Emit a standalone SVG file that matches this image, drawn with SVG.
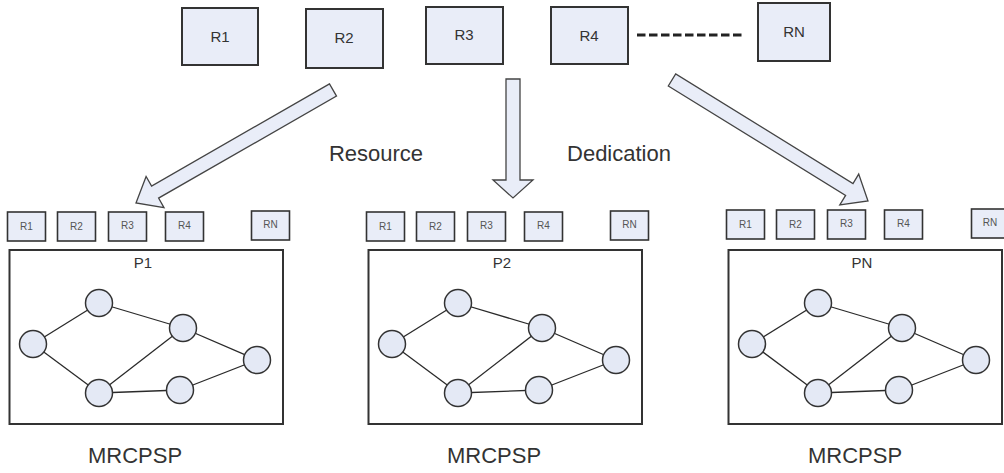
<svg xmlns="http://www.w3.org/2000/svg" width="1004" height="473" viewBox="0 0 1004 473">
<style>
text{font-family:"Liberation Sans",Arial,sans-serif;fill:#333;text-anchor:middle}
.rb{fill:#E9EDF8;stroke:#333;stroke-width:2}
.sb{fill:#E9EDF8;stroke:#333;stroke-width:1.6}
.pan{fill:#fff;stroke:#333;stroke-width:2}
.nd{fill:#E4E9F5;stroke:#333;stroke-width:1.5}
.ed{stroke:#2a2a2a;stroke-width:1.3;fill:none}
.ar{fill:#E9EDF8;stroke:#444;stroke-width:1.3;stroke-linejoin:miter}
.t15{font-size:15px}
.t10{font-size:10px;fill:#555}
.t22{font-size:22px}
</style>
<rect width="1004" height="473" fill="#fff"/>
<g id="top-resources">
<g id="R1"><rect class="rb" x="182" y="8" width="76" height="57"/><text class="t15" x="220" y="42">R1</text></g>
<g id="R2"><rect class="rb" x="306" y="9" width="77" height="59"/><text class="t15" x="344" y="43">R2</text></g>
<g id="R3"><rect class="rb" x="426" y="7" width="77" height="57"/><text class="t15" x="464" y="40">R3</text></g>
<g id="R4"><rect class="rb" x="551" y="7" width="77" height="57"/><text class="t15" x="589" y="41">R4</text></g>
<g id="RN"><rect class="rb" x="758" y="3" width="72" height="58"/><text class="t15" x="794" y="37">RN</text></g>
</g>
<g id="labels">
<text class="t22" x="376" y="161">Resource</text>
<text class="t22" x="619" y="161">Dedication</text>
</g>
<g id="panel-P1">
<rect class="pan" x="9.5" y="250" width="273.5" height="174"/>
<text class="t15" x="143" y="268">P1</text>
<g id="P1-R1"><rect class="sb" x="7.5" y="212" width="38" height="29"/><text class="t10" x="26.5" y="230">R1</text></g>
<g id="P1-R2"><rect class="sb" x="57.5" y="212" width="38" height="29"/><text class="t10" x="76.5" y="230">R2</text></g>
<g id="P1-R3"><rect class="sb" x="108.5" y="212" width="38" height="29"/><text class="t10" x="127.5" y="229">R3</text></g>
<g id="P1-R4"><rect class="sb" x="165.5" y="212" width="38" height="29"/><text class="t10" x="184.5" y="229">R4</text></g>
<g id="P1-RN"><rect class="sb" x="251.5" y="211" width="38" height="29"/><text class="t10" x="270.5" y="228">RN</text></g>
</g>
<g id="panel-P2">
<rect class="pan" x="368.5" y="250" width="273.5" height="174"/>
<text class="t15" x="502" y="268">P2</text>
<g id="P2-R1"><rect class="sb" x="366.5" y="212" width="38" height="29"/><text class="t10" x="385.5" y="230">R1</text></g>
<g id="P2-R2"><rect class="sb" x="416.5" y="212" width="38" height="29"/><text class="t10" x="435.5" y="230">R2</text></g>
<g id="P2-R3"><rect class="sb" x="467.5" y="212" width="38" height="29"/><text class="t10" x="486.5" y="229">R3</text></g>
<g id="P2-R4"><rect class="sb" x="524.5" y="212" width="38" height="29"/><text class="t10" x="543.5" y="229">R4</text></g>
<g id="P2-RN"><rect class="sb" x="610.5" y="211" width="38" height="29"/><text class="t10" x="629.5" y="228">RN</text></g>
</g>
<g id="panel-PN">
<rect class="pan" x="728.5" y="250" width="273.5" height="174"/>
<text class="t15" x="862" y="268">PN</text>
<g id="PN-R1"><rect class="sb" x="726.5" y="210" width="38" height="29"/><text class="t10" x="745.5" y="228">R1</text></g>
<g id="PN-R2"><rect class="sb" x="776.5" y="210" width="38" height="29"/><text class="t10" x="795.5" y="228">R2</text></g>
<g id="PN-R3"><rect class="sb" x="827.5" y="210" width="38" height="29"/><text class="t10" x="846.5" y="227">R3</text></g>
<g id="PN-R4"><rect class="sb" x="884.5" y="210" width="38" height="29"/><text class="t10" x="903.5" y="227">R4</text></g>
<g id="PN-RN"><rect class="sb" x="971.5" y="209" width="38" height="29"/><text class="t10" x="990" y="226">RN</text></g>
</g>
<g id="connectors">
<line x1="637" y1="35" x2="742" y2="35" stroke="#222" stroke-width="3.2" stroke-dasharray="8.5 3.5"/>
<polygon class="ar" points="329.5,83.9 151.6,186 146.1,176.4 136,203 164,207.7 158.6,198.1 336.5,96.1"/>
<polygon class="ar" points="506,79 520,79 520,180 533,180 513,198 493,180 506,180"/>
<polygon class="ar" points="668.3,86 845.6,195.4 839.8,204.8 868,201 858.7,174.1 853,183.5 675.7,74"/>
<g id="edges-P1">
<line class="ed" x1="33" y1="344" x2="99" y2="303"/><line class="ed" x1="33" y1="344" x2="99" y2="393"/>
<line class="ed" x1="99" y1="303" x2="183" y2="328"/><line class="ed" x1="99" y1="393" x2="183" y2="328"/>
<line class="ed" x1="99" y1="393" x2="180" y2="390"/><line class="ed" x1="183" y1="328" x2="257" y2="360"/>
<line class="ed" x1="180" y1="390" x2="257" y2="360"/>
</g>
<g id="edges-P2">
<line class="ed" x1="392" y1="344" x2="458" y2="303"/><line class="ed" x1="392" y1="344" x2="458" y2="393"/>
<line class="ed" x1="458" y1="303" x2="542" y2="328"/><line class="ed" x1="458" y1="393" x2="542" y2="328"/>
<line class="ed" x1="458" y1="393" x2="539" y2="390"/><line class="ed" x1="542" y1="328" x2="616" y2="360"/>
<line class="ed" x1="539" y1="390" x2="616" y2="360"/>
</g>
<g id="edges-PN">
<line class="ed" x1="752" y1="344" x2="818" y2="303"/><line class="ed" x1="752" y1="344" x2="818" y2="393"/>
<line class="ed" x1="818" y1="303" x2="902" y2="328"/><line class="ed" x1="818" y1="393" x2="902" y2="328"/>
<line class="ed" x1="818" y1="393" x2="899" y2="390"/><line class="ed" x1="902" y1="328" x2="976" y2="360"/>
<line class="ed" x1="899" y1="390" x2="976" y2="360"/>
</g>
</g>
<g id="nodes-P1">
<g id="P1-a"><circle class="nd" cx="33" cy="344" r="13.5"/></g>
<g id="P1-b"><circle class="nd" cx="99" cy="303" r="13.5"/></g>
<g id="P1-c"><circle class="nd" cx="183" cy="328" r="13.5"/></g>
<g id="P1-d"><circle class="nd" cx="99" cy="393" r="13.5"/></g>
<g id="P1-e"><circle class="nd" cx="180" cy="390" r="13.5"/></g>
<g id="P1-f"><circle class="nd" cx="257" cy="360" r="13.5"/></g>
</g>
<g id="nodes-P2">
<g id="P2-a"><circle class="nd" cx="392" cy="344" r="13.5"/></g>
<g id="P2-b"><circle class="nd" cx="458" cy="303" r="13.5"/></g>
<g id="P2-c"><circle class="nd" cx="542" cy="328" r="13.5"/></g>
<g id="P2-d"><circle class="nd" cx="458" cy="393" r="13.5"/></g>
<g id="P2-e"><circle class="nd" cx="539" cy="390" r="13.5"/></g>
<g id="P2-f"><circle class="nd" cx="616" cy="360" r="13.5"/></g>
</g>
<g id="nodes-PN">
<g id="PN-a"><circle class="nd" cx="752" cy="344" r="13.5"/></g>
<g id="PN-b"><circle class="nd" cx="818" cy="303" r="13.5"/></g>
<g id="PN-c"><circle class="nd" cx="902" cy="328" r="13.5"/></g>
<g id="PN-d"><circle class="nd" cx="818" cy="393" r="13.5"/></g>
<g id="PN-e"><circle class="nd" cx="899" cy="390" r="13.5"/></g>
<g id="PN-f"><circle class="nd" cx="976" cy="360" r="13.5"/></g>
</g>
<g id="captions">
<text class="t22" x="135" y="463">MRCPSP</text>
<text class="t22" x="494" y="463">MRCPSP</text>
<text class="t22" x="855" y="463">MRCPSP</text>
</g>
</svg>
